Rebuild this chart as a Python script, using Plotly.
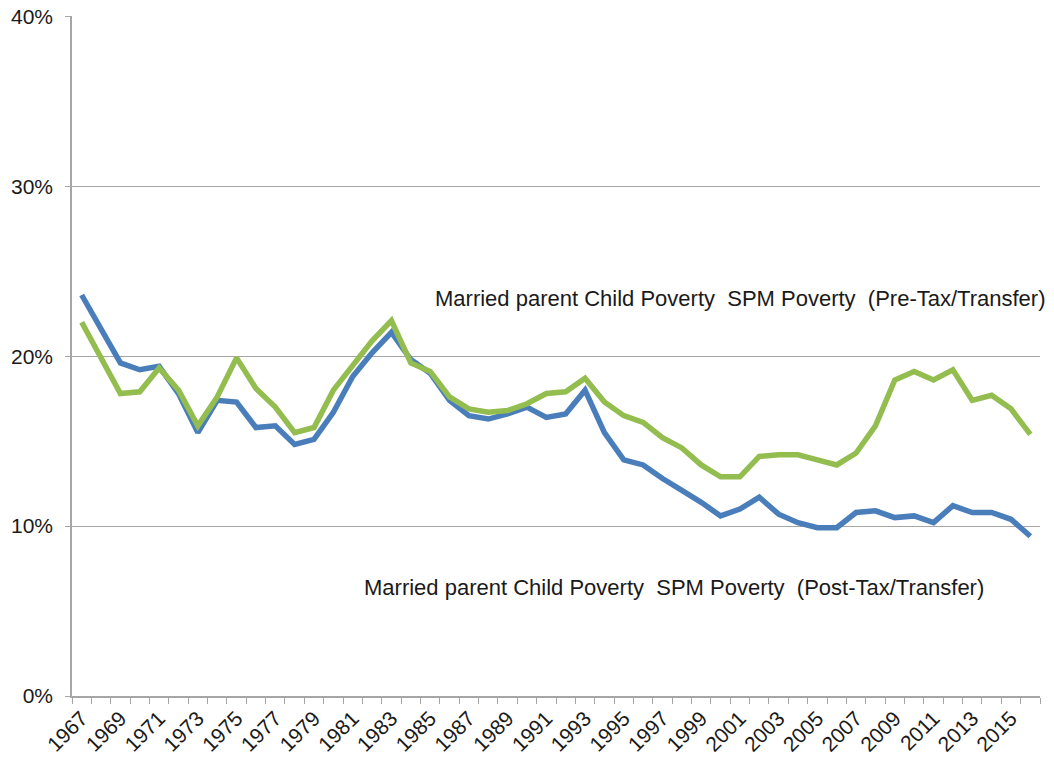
import plotly.graph_objects as go

years = list(range(1967, 2017))
post_tax = [23.6, 21.6, 19.6, 19.2, 19.4, 17.8, 15.5, 17.4, 17.3, 15.8,
            15.9, 14.8, 15.1, 16.7, 18.8, 20.2, 21.4, 19.8, 19.0, 17.4,
            16.5, 16.3, 16.6, 17.0, 16.4, 16.6, 18.0, 15.5, 13.9, 13.6,
            12.8, 12.1, 11.4, 10.6, 11.0, 11.7, 10.7, 10.2, 9.9, 9.9,
            10.8, 10.9, 10.5, 10.6, 10.2, 11.2, 10.8, 10.8, 10.4, 9.4]
pre_tax = [22.0, 19.9, 17.8, 17.9, 19.3, 18.0, 15.9, 17.6, 19.9, 18.1,
           17.0, 15.5, 15.8, 18.0, 19.4, 20.9, 22.1, 19.6, 19.1, 17.6,
           16.9, 16.7, 16.8, 17.2, 17.8, 17.9, 18.7, 17.3, 16.5, 16.1,
           15.2, 14.6, 13.6, 12.9, 12.9, 14.1, 14.2, 14.2, 13.9, 13.6,
           14.3, 15.9, 18.6, 19.1, 18.6, 19.2, 17.4, 17.7, 16.9, 15.4]
tick_years = list(range(1967, 2017, 2))
y_ticks = [0, 10, 20, 30, 40]
pre_label = "Married parent Child Poverty  SPM Poverty  (Pre-Tax/Transfer)"
post_label = "Married parent Child Poverty  SPM Poverty  (Post-Tax/Transfer)"

fig = go.Figure()
fig.add_trace(go.Scatter(x=years, y=post_tax, mode="lines",
                         line=dict(color="#4A7EBB", width=5.5), name="Post-Tax"))
fig.add_trace(go.Scatter(x=years, y=pre_tax, mode="lines",
                         line=dict(color="#93BD4F", width=5.5), name="Pre-Tax"))

fig.add_annotation(x=1985.15, y=23.4, text=pre_label, showarrow=False,
                   xanchor="left", yanchor="middle",
                   font=dict(family="Liberation Sans, Arial", size=22, color="#1a1a1a"))
fig.add_annotation(x=1981.5, y=6.4, text=post_label, showarrow=False,
                   xanchor="left", yanchor="middle",
                   font=dict(family="Liberation Sans, Arial", size=22, color="#1a1a1a"))

fig.update_layout(
    width=1054, height=761,
    margin=dict(l=72, r=14, t=16, b=65, autoexpand=False),
    paper_bgcolor="white", plot_bgcolor="white",
    showlegend=False,
    font=dict(family="Liberation Sans, Arial", size=19, color="#1a1a1a"),
)
fig.update_xaxes(
    range=[1966.5, 2016.5], tickmode="array", tickvals=tick_years,
    ticktext=[str(y) for y in tick_years], tickangle=-45,
    ticks="", showgrid=False, showline=True, linecolor="#A6A6A6", linewidth=1.5,
    zeroline=False, tickfont=dict(size=21), ticklabeloverflow="allow",
    minor=dict(ticks="outside", tick0=1966.5, dtick=1, ticklen=6,
               tickcolor="#A6A6A6", showgrid=False),
)
fig.update_yaxes(
    range=[0, 40.02], tickmode="array", tickvals=y_ticks,
    ticktext=[f"{v}%" for v in y_ticks], ticks="outside", ticklen=5,
    tickcolor="#A6A6A6", showgrid=True, gridcolor="#A6A6A6", gridwidth=1,
    showline=True, linecolor="#A6A6A6", linewidth=1.5, zeroline=False,
    tickfont=dict(size=21), ticklabeloverflow="allow", ticklabelstandoff=8,
)
fig.write_html("out.html", config={"displayModeBar": False},
               post_script="document.body.style.margin='0';")
